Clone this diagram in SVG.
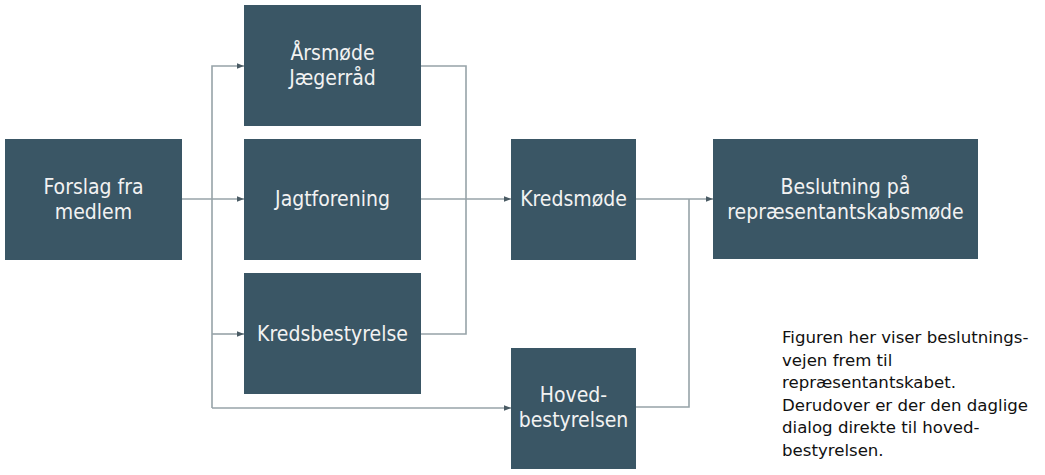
<svg xmlns="http://www.w3.org/2000/svg" width="1045" height="475" viewBox="0 0 1045 475">
<defs>
<marker id="arr" viewBox="0 0 10 10" refX="10" refY="5" markerWidth="7" markerHeight="7" markerUnits="userSpaceOnUse" orient="auto">
<path d="M0,1 L10,5 L0,9 z" fill="#4a5b64"/>
</marker>
<style>
.box{fill:#3a5665;}
.lbl{font-family:"DejaVu Sans Condensed","DejaVu Sans",sans-serif;font-size:21px;fill:#f2f2f2;text-anchor:middle;}
.con{fill:none;stroke:#97a3a8;stroke-width:1.6;}
.note{font-family:"DejaVu Sans",sans-serif;font-size:16.6px;fill:#111;}
</style>
</defs>
<rect width="1045" height="475" fill="#ffffff"/>
<g id="connectors">
<path class="con" d="M182,199 H244" marker-end="url(#arr)"/>
<path class="con" d="M212,408 V66 H244" marker-end="url(#arr)"/>
<path class="con" d="M212,334 H244" marker-end="url(#arr)"/>
<path class="con" d="M212,408 H511" marker-end="url(#arr)"/>
<path class="con" d="M421,66 H466 V334 H421"/>
<path class="con" d="M421,199 H511" marker-end="url(#arr)"/>
<path class="con" d="M636,199 H713" marker-end="url(#arr)"/>
<path class="con" d="M636,407 H689 V199"/>
</g>
<g id="forslag">
<rect class="box" x="5" y="139" width="177" height="121"/>
<text class="lbl" x="93.5" y="194">Forslag fra</text>
<text class="lbl" x="93.5" y="219">medlem</text>
</g>
<g id="aarsmoede">
<rect class="box" x="244" y="5" width="177" height="121"/>
<text class="lbl" x="332.5" y="60">Årsmøde</text>
<text class="lbl" x="332.5" y="85">Jægerråd</text>
</g>
<g id="jagtforening">
<rect class="box" x="244" y="139" width="177" height="121"/>
<text class="lbl" x="332.5" y="206">Jagtforening</text>
</g>
<g id="kredsbestyrelse">
<rect class="box" x="244" y="273" width="177" height="121"/>
<text class="lbl" x="332.5" y="341">Kredsbestyrelse</text>
</g>
<g id="kredsmoede">
<rect class="box" x="511" y="139" width="125" height="121"/>
<text class="lbl" x="573.5" y="206">Kredsmøde</text>
</g>
<g id="hovedbestyrelsen">
<rect class="box" x="511" y="348" width="125" height="121"/>
<text class="lbl" x="573.5" y="402">Hoved-</text>
<text class="lbl" x="573.5" y="427">bestyrelsen</text>
</g>
<g id="beslutning">
<rect class="box" x="713" y="139" width="265" height="120"/>
<text class="lbl" x="845.5" y="194">Beslutning på</text>
<text class="lbl" x="845.5" y="219">repræsentantskabsmøde</text>
</g>
<g id="note">
<text class="note" x="782" y="343">Figuren her viser beslutnings-</text>
<text class="note" x="782" y="366">vejen frem til</text>
<text class="note" x="782" y="388">repræsentantskabet.</text>
<text class="note" x="782" y="411">Derudover er der den daglige</text>
<text class="note" x="782" y="433">dialog direkte til hoved-</text>
<text class="note" x="782" y="456">bestyrelsen.</text>
</g>
</svg>
